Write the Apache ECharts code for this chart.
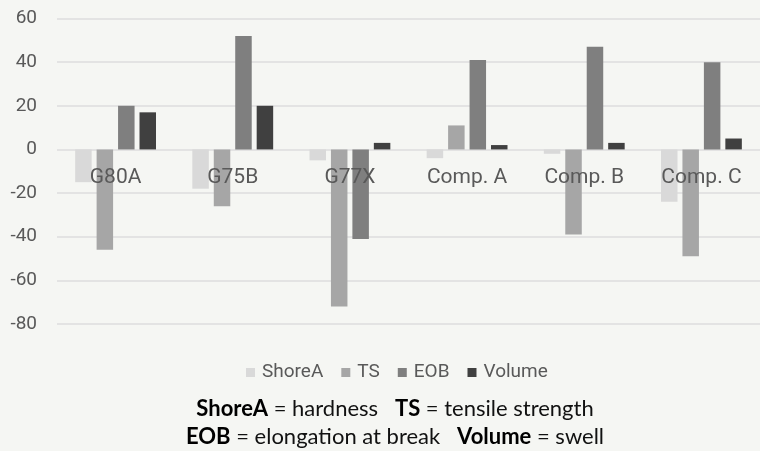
<!DOCTYPE html>
<html>
<head>
<meta charset="utf-8">
<script src="https://cdn.jsdelivr.net/npm/echarts@6/dist/echarts.min.js"></script>
<style>
html,body{margin:0;padding:0;background:#f5f6f3;}
#chart{width:760px;height:451px;}
</style>
</head>
<body>
<div id="chart"></div>
<script>
var categories = ['G80A', 'G75B', 'G77X', 'Comp. A', 'Comp. B', 'Comp. C'];
var shoreA = [-15, -18, -5, -4, -2, -24];
var ts = [-46, -26, -72, 11, -39, -49];
var eob = [20, 52, -41, 41, 47, 40];
var volume = [17, 20, 3, 2, 3, 5];
var seriesNames = ['ShoreA', 'TS', 'EOB', 'Volume'];
var seriesColors = ['#d9d9d9', '#a6a6a6', '#7f7f7f', '#404040'];
var yMin = -80, yMax = 60, yStep = 20;

var chart = echarts.init(document.getElementById('chart'));
var dataSets = [shoreA, ts, eob, volume];
var series = dataSets.map(function (d, i) {
  return {
    name: seriesNames[i],
    type: 'bar',
    data: d,
    barWidth: 16.5,
    barGap: '30%',
    itemStyle: { color: seriesColors[i] }
  };
});

var captionRich = {
  b: { fontWeight: 'bold', fontSize: 22, fontFamily: 'Lato', fill: '#000' }
};

chart.setOption({
  backgroundColor: '#f5f6f3',
  animation: false,
  textStyle: { fontFamily: 'Roboto' },
  grid: { left: 57, right: -9, top: 18.5, bottom: 127, containLabel: false },
  legend: {
    data: seriesNames,
    left: 241,
    top: 358,
    itemWidth: 9,
    itemHeight: 9,
    itemGap: 18,
    icon: 'rect',
    textStyle: { color: '#595959', fontSize: 19, fontFamily: 'Roboto', padding: [0, 0, 0, 2] }
  },
  xAxis: {
    type: 'category',
    data: categories,
    z: 3,
    position: 'bottom',
    axisTick: { show: false },
    axisLine: { show: false, onZero: false },
    axisLabel: { color: '#595959', fontSize: 21, margin: 18, fontFamily: 'Roboto' }
  },
  yAxis: {
    type: 'value',
    min: yMin,
    max: yMax,
    interval: yStep,
    axisLine: { show: false },
    axisTick: { show: false },
    axisLabel: { color: '#595959', fontSize: 19, margin: 20, fontFamily: 'Roboto' },
    splitLine: { lineStyle: { color: '#e3e3e3', width: 2 } }
  },
  graphic: [
    {
      type: 'text',
      x: 395, y: 409,
      style: {
        text: '{b|ShoreA} = hardness   {b|TS} = tensile strength',
        align: 'center', verticalAlign: 'middle',
        fill: '#111', fontSize: 22, fontFamily: 'Lato',
        rich: captionRich
      }
    },
    {
      type: 'text',
      x: 395, y: 437,
      style: {
        text: '{b|EOB} = elongation at break   {b|Volume} = swell',
        align: 'center', verticalAlign: 'middle',
        fill: '#111', fontSize: 22, fontFamily: 'Lato',
        rich: captionRich
      }
    }
  ],
  series: series
});

// Put the category axis (and its labels) on the zero line of the value axis
var yZero = chart.convertToPixel({ yAxisIndex: 0 }, 0);
var yBottom = chart.convertToPixel({ yAxisIndex: 0 }, yMin);
chart.setOption({ xAxis: { offset: yZero - yBottom } });
</script>
</body>
</html>
